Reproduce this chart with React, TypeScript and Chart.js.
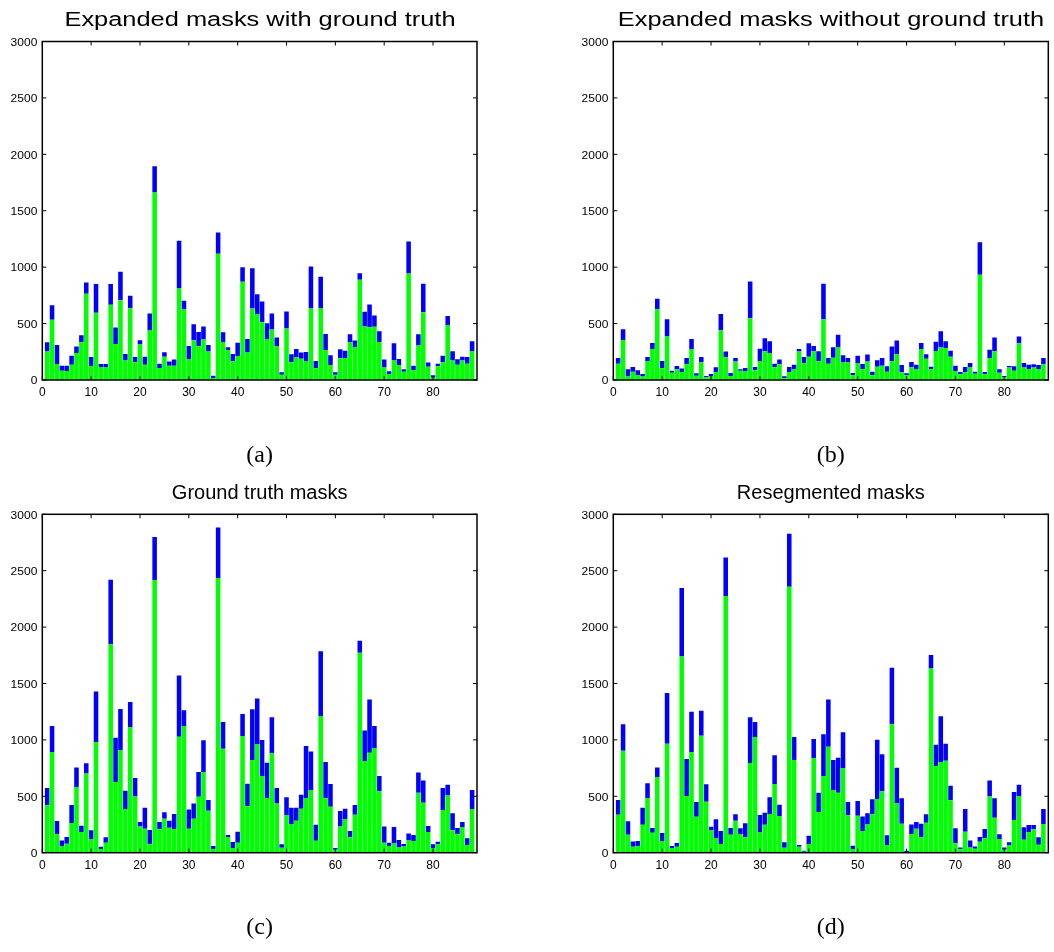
import React, { useEffect, useRef } from "react";
import { Chart, registerables } from "chart.js";

Chart.register(...registerables);

// Mask index along the x axis (88 masks)
const maskIndex: number[] = Array.from({ length: 88 }, (_, i) => i + 1);

const xTickValues = [0, 10, 20, 30, 40, 50, 60, 70, 80];
const yTickValues = [0, 500, 1000, 1500, 2000, 2500, 3000];

// (a) Expanded masks with ground truth
const expandedWithGtLower = [
  252, 533, 142, 83, 80, 136, 240, 334, 764, 124, 595, 115, 110, 666, 320, 707, 172, 636, 157, 320,
  136, 438, 1661, 107, 207, 127, 127, 811, 625, 181, 352, 299, 358, 252, 18, 1119, 337, 266, 166, 213,
  870, 243, 633, 585, 512, 358, 447, 302, 47, 456, 157, 204, 189, 163, 633, 104, 639, 266, 133, 47,
  192, 195, 337, 293, 888, 474, 468, 471, 337, 110, 53, 178, 133, 74, 944, 89, 305, 601, 118, 21,
  121, 157, 488, 172, 136, 172, 145, 258,
];
const expandedWithGtUpper = [
  82, 130, 169, 44, 47, 80, 56, 63, 100, 80, 255, 27, 32, 184, 145, 252, 59, 110, 47, 32,
  71, 151, 233, 38, 39, 36, 54, 423, 77, 121, 142, 127, 116, 59, 20, 189, 86, 24, 65, 118,
  130, 121, 358, 175, 184, 145, 142, 74, 21, 151, 71, 71, 54, 86, 373, 65, 276, 142, 86, 21,
  80, 65, 68, 56, 59, 130, 201, 100, 95, 71, 24, 148, 53, 21, 284, 38, 100, 251, 36, 20,
  24, 59, 80, 83, 48, 35, 59, 85,
];

// (b) Expanded masks without ground truth
const expandedNoGtLower = [
  145, 355, 30, 74, 44, 30, 169, 275, 628, 104, 385, 65, 95, 71, 139, 275, 38, 157, 24, 36,
  71, 441, 201, 36, 163, 83, 80, 548, 86, 169, 255, 240, 112, 139, 15, 71, 98, 252, 148, 207,
  255, 166, 539, 145, 198, 287, 154, 160, 41, 151, 95, 163, 41, 118, 127, 74, 166, 228, 68, 41,
  112, 92, 275, 189, 95, 258, 287, 284, 207, 80, 50, 68, 115, 56, 932, 50, 195, 255, 65, 24,
  110, 83, 326, 110, 98, 110, 92, 139,
];
const expandedNoGtUpper = [
  50, 95, 65, 41, 42, 23, 35, 54, 91, 65, 154, 18, 29, 30, 56, 89, 21, 47, 12, 17,
  41, 145, 51, 26, 32, 12, 27, 325, 29, 109, 115, 103, 33, 42, 18, 44, 38, 23, 56, 119,
  47, 89, 313, 50, 92, 113, 65, 35, 21, 65, 47, 62, 33, 57, 68, 47, 130, 121, 65, 18,
  48, 44, 54, 39, 23, 82, 145, 59, 53, 47, 21, 47, 36, 18, 288, 21, 74, 121, 30, 12,
  14, 38, 59, 41, 38, 29, 41, 56,
];

// (c) Ground truth masks
const groundTruthLower = [
  420, 892, 163, 56, 80, 263, 582, 183, 703, 118, 981, 33, 89, 1847, 626, 910, 387, 1114, 499, 233,
  213, 74, 2417, 207, 301, 222, 210, 1028, 1123, 213, 301, 496, 715, 372, 33, 2435, 922, 139, 41, 89,
  1034, 411, 821, 963, 680, 485, 881, 437, 44, 334, 251, 284, 390, 485, 556, 106, 1212, 482, 408, 27,
  233, 298, 136, 337, 1773, 813, 887, 928, 544, 89, 59, 86, 47, 56, 112, 103, 532, 443, 183, 38,
  74, 378, 508, 198, 163, 228, 68, 387,
];
const groundTruthUpper = [
  153, 231, 118, 53, 59, 160, 174, 56, 89, 80, 449, 20, 47, 573, 393, 364, 163, 222, 163, 39,
  186, 127, 381, 65, 57, 62, 133, 544, 139, 171, 136, 219, 281, 95, 26, 449, 236, 18, 54, 97,
  195, 201, 450, 405, 319, 313, 319, 136, 30, 157, 148, 115, 124, 461, 342, 142, 573, 322, 201, 14,
  136, 92, 56, 86, 106, 271, 472, 195, 136, 144, 30, 142, 65, 21, 59, 54, 180, 198, 53, 36,
  24, 195, 95, 151, 56, 44, 59, 169,
];

// (d) Resegmented masks
const resegmentedLower = [
  337, 904, 160, 53, 59, 248, 485, 177, 671, 100, 966, 41, 53, 1740, 502, 892, 319, 1037, 452, 201,
  130, 77, 2275, 160, 284, 165, 136, 795, 1025, 180, 248, 343, 609, 325, 44, 2358, 822, 53, 9, 77,
  839, 361, 680, 940, 556, 532, 751, 331, 33, 328, 192, 251, 340, 476, 544, 68, 1138, 440, 257, 6,
  165, 213, 136, 266, 1634, 768, 804, 816, 464, 83, 30, 186, 47, 35, 98, 127, 499, 310, 121, 27,
  68, 290, 502, 115, 183, 207, 71, 254,
];
const resegmentedUpper = [
  130, 234, 118, 47, 44, 151, 130, 42, 85, 74, 449, 18, 33, 606, 328, 358, 130, 222, 154, 29,
  166, 115, 343, 59, 56, 51, 124, 405, 133, 154, 107, 148, 254, 101, 48, 470, 203, 15, 9, 74,
  169, 171, 369, 419, 265, 310, 316, 118, 29, 130, 130, 98, 133, 526, 328, 86, 502, 314, 225, 12,
  86, 59, 121, 74, 118, 189, 405, 150, 130, 133, 17, 201, 62, 21, 41, 83, 142, 172, 42, 20,
  24, 248, 101, 110, 62, 38, 65, 133,
];

type Rect = { left: number; top: number; right: number; bottom: number };
type Box = { left: number; top: number; width: number; height: number };

const axesFrame = {
  id: "axesFrame",
  afterDraw(chart: any) {
    const ctx: CanvasRenderingContext2D = chart.ctx;
    const { left, top, right, bottom } = chart.chartArea;
    const xs = chart.scales.x;
    const ys = chart.scales.y;
    ctx.save();
    ctx.strokeStyle = "#000";
    ctx.lineWidth = 1.5;
    ctx.strokeRect(left, top, right - left, bottom - top);

    ctx.lineWidth = 1;
    ctx.beginPath();
    for (const v of xTickValues) {
      const px = xs.getPixelForValue(v);
      ctx.moveTo(px, bottom);
      ctx.lineTo(px, bottom - 4);
      ctx.moveTo(px, top);
      ctx.lineTo(px, top + 4);
    }
    for (const v of yTickValues) {
      const py = ys.getPixelForValue(v);
      ctx.moveTo(left, py);
      ctx.lineTo(left + 4, py);
      ctx.moveTo(right, py);
      ctx.lineTo(right - 4, py);
    }
    ctx.stroke();

    ctx.fillStyle = "#000";
    ctx.font = '12px "Liberation Sans", Arial, sans-serif';
    ctx.textAlign = "center";
    ctx.textBaseline = "alphabetic";
    for (const v of xTickValues) {
      ctx.fillText(String(v), xs.getPixelForValue(v), bottom + 16);
    }
    ctx.textAlign = "right";
    ctx.textBaseline = "middle";
    for (const v of yTickValues) {
      const py = ys.getPixelForValue(v);
      ctx.save();
      ctx.translate(left - 5, py + 1.5);
      ctx.scale(1, 0.85);
      ctx.fillText(String(v), 0, 0);
      ctx.restore();
    }
    ctx.restore();
  },
};

function Panel(props: {
  title: string;
  titleStretch: number;
  caption: string;
  lower: number[];
  upper: number[];
  box: Box;
  plot: Rect;
}) {
  const ref = useRef<HTMLCanvasElement | null>(null);
  const { title, titleStretch, caption, lower, upper, box, plot } = props;

  useEffect(() => {
    if (!ref.current) return;
    const chart = new Chart(ref.current, {
      type: "bar",
      data: {
        datasets: [
          {
            data: maskIndex.map((x, i) => ({ x, y: lower[i] })),
            backgroundColor: "#00ff00",
            borderWidth: 0,
            barPercentage: 0.93,
            categoryPercentage: 1,
            stack: "masks",
          },
          {
            data: maskIndex.map((x, i) => ({ x, y: upper[i] })),
            backgroundColor: "#0000ff",
            borderWidth: 0,
            barPercentage: 0.93,
            categoryPercentage: 1,
            stack: "masks",
          },
        ],
      } as any,
      options: {
        animation: false,
        responsive: false,
        maintainAspectRatio: false,
        layout: {
          padding: {
            left: plot.left - box.left,
            top: plot.top - box.top,
            right: box.left + box.width - plot.right,
            bottom: box.top + box.height - plot.bottom,
          },
        },
        plugins: {
          legend: { display: false },
          tooltip: { enabled: false },
          title: { display: false },
        },
        scales: {
          x: { type: "linear", min: 0, max: 89, stacked: true, display: false, offset: false },
          y: { min: 0, max: 3000, stacked: true, display: false },
        },
      } as any,
      plugins: [axesFrame],
    });
    return () => chart.destroy();
  }, []);

  const cx = (plot.left + plot.right) / 2;
  return (
    <>
      <canvas
        ref={ref}
        width={box.width}
        height={box.height}
        style={{ position: "absolute", left: box.left, top: box.top, width: box.width, height: box.height }}
      />
      <div
        style={{
          position: "absolute",
          left: cx - 300,
          width: 600,
          top: plot.top - 32.5,
          textAlign: "center",
          fontFamily: '"Liberation Sans", Arial, sans-serif',
          fontSize: 20,
          lineHeight: "20px",
          whiteSpace: "nowrap",
          transform: `scaleX(${titleStretch})`,
          color: "#000",
        }}
      >
        {title}
      </div>
      <div
        style={{
          position: "absolute",
          left: cx - 100,
          width: 200,
          top: plot.top + 400,
          textAlign: "center",
          fontFamily: '"Liberation Serif", "DejaVu Serif", serif',
          fontSize: 24,
          lineHeight: "24px",
          color: "#000",
        }}
      >
        {caption}
      </div>
    </>
  );
}

export default function App() {
  return (
    <div style={{ position: "absolute", left: 0, top: 0, width: 1054, height: 952, background: "#fff" }}>
      <Panel
        title="Expanded masks with ground truth"
        titleStretch={1.27}
        caption="(a)"
        lower={expandedWithGtLower}
        upper={expandedWithGtUpper}
        box={{ left: 0, top: 0, width: 527, height: 476 }}
        plot={{ left: 42.3, top: 41.5, right: 477, bottom: 380 }}
      />
      <Panel
        title="Expanded masks without ground truth"
        titleStretch={1.27}
        caption="(b)"
        lower={expandedNoGtLower}
        upper={expandedNoGtUpper}
        box={{ left: 527, top: 0, width: 527, height: 476 }}
        plot={{ left: 613.3, top: 41.5, right: 1048.3, bottom: 380 }}
      />
      <Panel
        title="Ground truth masks"
        titleStretch={1.0}
        caption="(c)"
        lower={groundTruthLower}
        upper={groundTruthUpper}
        box={{ left: 0, top: 476, width: 527, height: 476 }}
        plot={{ left: 42.3, top: 514.3, right: 477, bottom: 852.7 }}
      />
      <Panel
        title="Resegmented masks"
        titleStretch={1.0}
        caption="(d)"
        lower={resegmentedLower}
        upper={resegmentedUpper}
        box={{ left: 527, top: 476, width: 527, height: 476 }}
        plot={{ left: 613.3, top: 514.3, right: 1048.3, bottom: 852.7 }}
      />
    </div>
  );
}
